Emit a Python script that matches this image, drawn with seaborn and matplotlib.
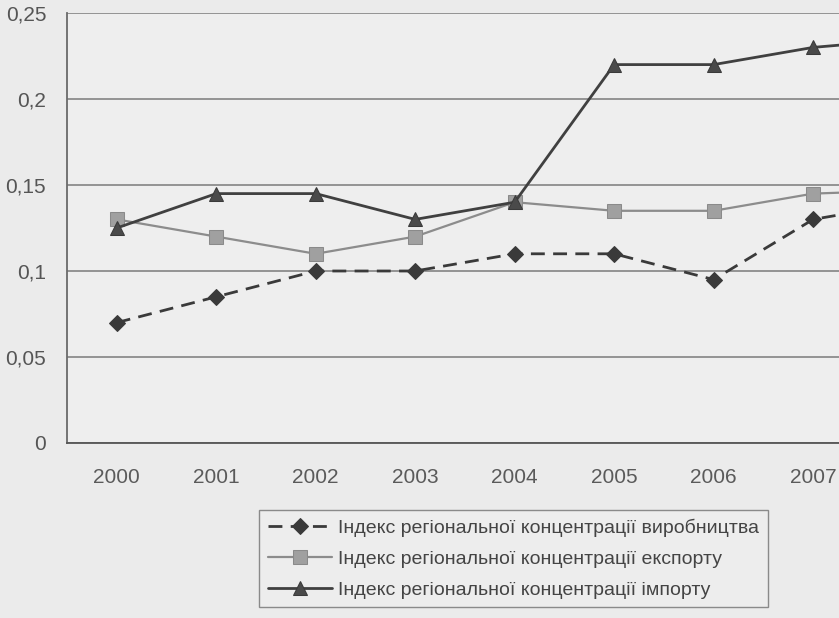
import matplotlib
matplotlib.use("Agg")
import matplotlib.pyplot as plt
import matplotlib.ticker as mticker
import seaborn as sns
import pandas as pd
import numpy as np

years = ["2000", "2001", "2002", "2003", "2004", "2005", "2006", "2007", "2008"]
production = [0.07, 0.085, 0.10, 0.10, 0.11, 0.11, 0.095, 0.13, 0.14]
export = [0.13, 0.12, 0.11, 0.12, 0.14, 0.135, 0.135, 0.145, 0.147]
imports = [0.125, 0.145, 0.145, 0.13, 0.14, 0.22, 0.22, 0.23, 0.235]

labels = [
    "Індекс регіональної концентрації виробництва",
    "Індекс регіональної концентрації експорту",
    "Індекс регіональної концентрації імпорту",
]
yticks = [0, 0.05, 0.1, 0.15, 0.2, 0.25]

sns.set_style("white")
plt.rcParams["font.family"] = ["Liberation Sans", "DejaVu Sans"]

BG = "#ebebeb"
fig = plt.figure(figsize=(8.39, 6.18), dpi=100, facecolor=BG)
ax = fig.add_axes([67 / 839, 1 - 443 / 618, 1 - 67 / 839, (443 - 13) / 618])
ax.set_facecolor("#eeeeee")

df = pd.DataFrame({"year": years, "prod": production, "exp": export, "imp": imports})
df["pos"] = np.arange(len(years))

sns.lineplot(data=df, x="pos", y="prod", ax=ax, color="#3a3a3a", lw=2.0,
             linestyle=(0, (5, 3)), marker="D", markersize=8,
             markeredgecolor="#3a3a3a", markerfacecolor="#3a3a3a", label=labels[0])
sns.lineplot(data=df, x="pos", y="exp", ax=ax, color="#8c8c8c", lw=1.6,
             marker="s", markersize=10, markeredgecolor="#8a8a8a",
             markerfacecolor="#a0a0a0", label=labels[1])
sns.lineplot(data=df, x="pos", y="imp", ax=ax, color="#404040", lw=2.0,
             marker="^", markersize=10, markeredgecolor="#3a3a3a",
             markerfacecolor="#4a4a4a", label=labels[2])

ax.set_xlabel("")
ax.set_ylabel("")

ax.set_yticks(yticks)
ax.yaxis.set_major_formatter(mticker.FuncFormatter(lambda v, p: f"{v:g}".replace(".", ",")))
ax.yaxis.grid(True, color="#7a7a7a", lw=1.1)
ax.set_axisbelow(True)

ax.set_xticks(range(len(years)))
ax.set_xticklabels(years)
ax.set_xticks(np.arange(-0.5, len(years), 1.0), minor=True)
ax.tick_params(axis="x", which="major", length=0, pad=18, labelsize=15, labelcolor="#5a5a5a")
ax.tick_params(axis="x", which="minor", length=6, width=1, color="#666666", direction="out")
ax.tick_params(axis="y", which="major", length=9, width=1, color="#666666", pad=6,
               labelsize=15, labelcolor="#555555", direction="out")

ax.set_xlim(-0.5, 7.26)
ax.set_ylim(0, 0.25)

for s in ["top", "right"]:
    ax.spines[s].set_visible(False)
ax.spines["left"].set_color("#6a6a6a")
ax.spines["left"].set_linewidth(1.3)
ax.spines["bottom"].set_color("#555555")
ax.spines["bottom"].set_linewidth(1.3)

handles, labs = ax.get_legend_handles_labels()
if ax.legend_:
    ax.legend_.remove()
leg = fig.legend(handles, labs, loc="upper left", bbox_to_anchor=(259 / 839, 1 - 510 / 618),
                 frameon=True, fancybox=False, edgecolor="#8a8a8a", facecolor="#ededed",
                 framealpha=1, fontsize=14, handlelength=3.3, handletextpad=0.3,
                 labelspacing=0.68, borderpad=0.45, borderaxespad=0)
for t in leg.get_texts():
    t.set_color("#444444")

fig.savefig("out.png", dpi=100, facecolor=BG)
